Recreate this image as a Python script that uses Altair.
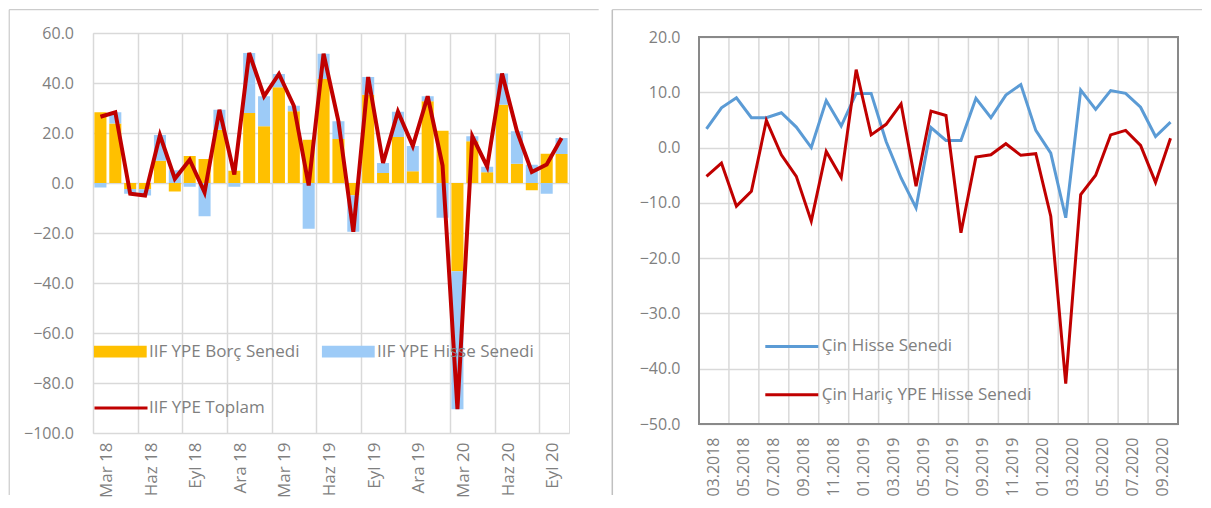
import altair as alt
import pandas as pd

# ---------------- data ----------------
months_left = ["Mar 18", "Nis 18", "May 18", "Haz 18", "Tem 18", "Ağu 18", "Eyl 18", "Eki 18",
               "Kas 18", "Ara 18", "Oca 19", "Şub 19", "Mar 19", "Nis 19", "May 19", "Haz 19",
               "Tem 19", "Ağu 19", "Eyl 19", "Eki 19", "Kas 19", "Ara 19", "Oca 20", "Şub 20",
               "Mar 20", "Nis 20", "May 20", "Haz 20", "Tem 20", "Ağu 20", "Eyl 20", "Eki 20"]
left_ticks = ["Mar 18", "Haz 18", "Eyl 18", "Ara 18", "Mar 19", "Haz 19", "Eyl 19", "Ara 19",
              "Mar 20", "Haz 20", "Eyl 20"]
borc = [28.3, 23.8, -2.4, -2.5, 8.9, -3.4, 10.8, 9.6, 21.3, 4.9,
        28.0, 22.7, 38.3, 28.7, 17.3, 41.6, 17.6, -4.9, 35.3, 4.0, 18.4, 4.7,
        32.7, 20.9, -35.3, 16.7, 4.3, 31.3, 7.7, -2.9, 11.7, 11.6]
hisse = [-1.8, 4.5, -1.9, -2.5, 10.3, 5.1, -1.5, -13.3, 8.0, -1.5,
         24.0, 12.0, 5.3, 2.2, -18.3, 10.1, 7.1, -14.6, 7.1, 4.0, 10.1, 10.1,
         2.0, -13.9, -55.2, 2.0, 2.2, 12.5, 13.0, 7.3, -4.3, 6.4]
toplam = [26.5, 28.3, -4.3, -5.0, 19.2, 1.7, 9.3, -3.7, 29.3, 3.4,
          52.0, 34.7, 43.6, 30.9, -1.0, 51.7, 24.7, -19.5, 42.4, 8.0, 28.5, 14.8,
          34.7, 7.0, -90.5, 18.7, 6.5, 43.8, 20.7, 4.4, 7.4, 18.0]
left_series = ["IIF YPE Borç Senedi", "IIF YPE Hisse Senedi"]
left_line_series = ["IIF YPE Toplam"]
left_y_ticks = [-100, -80, -60, -40, -20, 0, 20, 40, 60]

months_right = ["03.2018", "04.2018", "05.2018", "06.2018", "07.2018", "08.2018", "09.2018", "10.2018",
                "11.2018", "12.2018", "01.2019", "02.2019", "03.2019", "04.2019", "05.2019", "06.2019",
                "07.2019", "08.2019", "09.2019", "10.2019", "11.2019", "12.2019", "01.2020", "02.2020",
                "03.2020", "04.2020", "05.2020", "06.2020", "07.2020", "08.2020", "09.2020", "10.2020"]
right_ticks = ["03.2018", "05.2018", "07.2018", "09.2018", "11.2018", "01.2019", "03.2019", "05.2019",
               "07.2019", "09.2019", "11.2019", "01.2020", "03.2020", "05.2020", "07.2020", "09.2020"]
cin = [3.4, 7.2, 9.0, 5.4, 5.4, 6.3, 3.7, 0.0, 8.5, 3.9,
       9.8, 9.8, 1.1, -5.5, -10.9, 3.6, 1.3, 1.3, 8.9, 5.4,
       9.5, 11.4, 3.1, -1.0, -12.7, 10.4, 6.9, 10.3, 9.8, 7.3,
       2.0, 4.6]
cin_haric = [-5.2, -2.8, -10.6, -7.9, 4.9, -1.3, -5.2, -13.3, -0.7, -5.4,
             14.1, 2.3, 4.2, 7.9, -7.0, 6.6, 5.8, -15.4, -1.7, -1.3,
             0.7, -1.4, -1.1, -12.4, -42.7, -8.5, -5.0, 2.3, 3.1, 0.4,
             -6.3, 1.7]
right_series = ["Çin Hisse Senedi", "Çin Hariç YPE Hisse Senedi"]
right_y_ticks = [-50, -40, -30, -20, -10, 0, 10, 20]

# ---------------- style ----------------
FONT = "Open Sans"
LABEL = "#7f7f7f"
GRID = "#d9d9d9"
FRAME = "#c0c0c0"
PLOTFRAME = "#898989"
ORANGE = "#FFC000"
LIGHTBLUE = "#9DCBF7"
RED = "#C00000"
BLUE = "#5B9BD5"
RECT = "M-1,-0.22H1V0.22H-1Z"

LW, LH = 476, 400
RW = 479
R_TOP = 4            # right plot sits 4px lower than the left one
R_BOT = 391          # bottom of right plot area
BOX_TOP = -23.3      # outer box top line, relative to the plot origin
step_l = LW / 32
step_r = RW / 32

one = pd.DataFrame({"k": [0]})

# ---------------- left chart ----------------
bar_df = pd.DataFrame({
    "ay": months_left * 2,
    "seri": [left_series[0]] * 32 + [left_series[1]] * 32,
    "deger": borc + hisse,
    "sira": [0] * 32 + [1] * 32,
})
line_df = pd.DataFrame({"ay": months_left, "seri": left_line_series[0], "deger": toplam})

x_left = alt.X(
    "ay:N", sort=months_left, title=None,
    scale=alt.Scale(domain=months_left, paddingInner=0.19, paddingOuter=0.095),
    axis=alt.Axis(values=left_ticks, bandPosition=0, tickOffset=-0.095 * step_l,
                  labelOffset=step_l / 2, labelAngle=270, labelPadding=9,
                  grid=True, gridColor=GRID, gridWidth=1.5, ticks=False, tickSize=0,
                  domain=False, labelFontSize=17, labelColor=LABEL, labelFont=FONT),
)
y_left_scale = alt.Scale(domain=[-100, 60], nice=False, zero=False)
y_left_axis = alt.Axis(values=left_y_ticks, format=".1f", grid=True, gridColor=GRID, gridWidth=1.5,
                       ticks=False, tickSize=0, domain=False, labelPadding=19.5,
                       labelFontSize=16, labelColor=LABEL, labelFont=FONT)

bars = alt.Chart(bar_df).mark_bar().encode(
    x=x_left,
    y=alt.Y("deger:Q", stack="zero", title=None, scale=y_left_scale, axis=y_left_axis),
    fill=alt.Fill("seri:N", scale=alt.Scale(domain=left_series, range=[ORANGE, LIGHTBLUE]),
                  legend=alt.Legend(title=None, orient="none", legendX=0.7, legendY=308.7,
                                    direction="horizontal", columns=2, symbolType=RECT,
                                    symbolSize=2809, symbolStrokeWidth=0, symbolOpacity=1,
                                    clipHeight=20, labelOffset=2.2, columnPadding=22,
                                    labelFontSize=17, labelColor=LABEL, labelFont=FONT,
                                    labelLimit=400, padding=0)),
    order=alt.Order("sira:Q"),
)

tline = alt.Chart(line_df).mark_line(strokeWidth=4).encode(
    x=alt.X("ay:N", sort=months_left, bandPosition=0.5),
    y=alt.Y("deger:Q"),
    stroke=alt.Stroke("seri:N", scale=alt.Scale(domain=left_line_series, range=[RED]),
                      legend=alt.Legend(title=None, orient="none", legendX=0, legendY=365,
                                        symbolType="stroke", symbolSize=2809, symbolStrokeWidth=3,
                                        clipHeight=20, labelOffset=0,
                                        labelFontSize=17, labelColor=LABEL, labelFont=FONT,
                                        labelLimit=400, padding=0)),
)

l_frame_v = alt.Chart(one).mark_rule(color=FRAME, strokeWidth=1).encode(
    x=alt.value(-83.8), y=alt.value(BOX_TOP), y2=alt.value(462))
l_frame_t = alt.Chart(one).mark_rule(color=FRAME, strokeWidth=1).encode(
    x=alt.value(-83.8), x2=alt.value(505.7), y=alt.value(BOX_TOP))

left = alt.layer(bars, tline, l_frame_v, l_frame_t).properties(width=LW, height=LH)

# ---------------- right chart ----------------
right_df = pd.DataFrame({
    "ay": months_right * 2,
    "seri": [right_series[0]] * 32 + [right_series[1]] * 32,
    "deger": cin + cin_haric,
})
grid_df = pd.DataFrame({"ay": right_ticks})

x_right_scale = alt.Scale(type="band", domain=months_right, paddingInner=0, paddingOuter=0)

vgrid = alt.Chart(grid_df).mark_rule(color=GRID, strokeWidth=1.5).encode(
    x=alt.X("ay:N", sort=months_right, bandPosition=0, scale=x_right_scale, title=None,
            axis=alt.Axis(values=right_ticks, bandPosition=0, labelOffset=step_r / 2,
                          labelAngle=270, labelPadding=13, grid=False, ticks=False, tickSize=0,
                          domain=False, labelFontSize=16, labelColor=LABEL, labelFont=FONT)),
    y=alt.value(R_TOP), y2=alt.value(R_BOT),
)

rlines = alt.Chart(right_df).mark_line(strokeWidth=3).encode(
    x=alt.X("ay:N", sort=months_right, bandPosition=0.5),
    y=alt.Y("deger:Q", title=None,
            scale=alt.Scale(domain=[-50, 20], nice=False, zero=False, range=[R_BOT, R_TOP]),
            axis=alt.Axis(values=right_y_ticks, format=".1f", grid=True, gridColor=GRID,
                          gridWidth=1.5, ticks=False, tickSize=0, domain=False, labelPadding=19,
                          labelFontSize=16, labelColor=LABEL, labelFont=FONT)),
    stroke=alt.Stroke("seri:N", scale=alt.Scale(domain=right_series, range=[BLUE, RED]),
                      legend=alt.Legend(title=None, orient="none", legendX=64.8, legendY=303.4,
                                        direction="vertical", symbolType="stroke",
                                        symbolSize=2809, symbolStrokeWidth=3, clipHeight=20,
                                        rowPadding=28.3, labelOffset=2,
                                        labelFontSize=17, labelColor=LABEL, labelFont=FONT,
                                        labelLimit=400, padding=0)),
)

# plot-area frame of the right panel
rf_top = alt.Chart(one).mark_rule(color=PLOTFRAME, strokeWidth=2).encode(
    x=alt.value(-1), x2=alt.value(RW + 1), y=alt.value(R_TOP))
rf_bot = alt.Chart(one).mark_rule(color=PLOTFRAME, strokeWidth=2).encode(
    x=alt.value(-1), x2=alt.value(RW + 1), y=alt.value(R_BOT))
rf_left = alt.Chart(one).mark_rule(color=PLOTFRAME, strokeWidth=2).encode(
    x=alt.value(0), y=alt.value(R_TOP - 1), y2=alt.value(R_BOT + 1))
rf_right = alt.Chart(one).mark_rule(color=PLOTFRAME, strokeWidth=2).encode(
    x=alt.value(RW), y=alt.value(R_TOP - 1), y2=alt.value(R_BOT + 1))

# outer box lines of the right panel
r_frame_v = alt.Chart(one).mark_rule(color=FRAME, strokeWidth=1.5).encode(
    x=alt.value(-86.7), y=alt.value(BOX_TOP), y2=alt.value(462))
r_frame_t = alt.Chart(one).mark_rule(color=FRAME, strokeWidth=1).encode(
    x=alt.value(-86.7), x2=alt.value(503), y=alt.value(BOX_TOP))

right = alt.layer(vgrid, rlines, rf_top, rf_bot, rf_left, rf_right, r_frame_v, r_frame_t).properties(
    width=RW, height=R_BOT, view=alt.ViewBackground(stroke="transparent"))

chart = alt.hconcat(left, right, spacing=11).resolve_scale(
    x="independent", y="independent", fill="independent", stroke="independent"
).resolve_legend(fill="independent", stroke="independent").properties(
    padding={"left": 0, "right": 0, "top": 0, "bottom": 0}, background="white"
).configure_view(stroke=PLOTFRAME, strokeWidth=2).configure(font=FONT)

chart.save("out.html", embed_options={"renderer": "svg", "actions": False})
